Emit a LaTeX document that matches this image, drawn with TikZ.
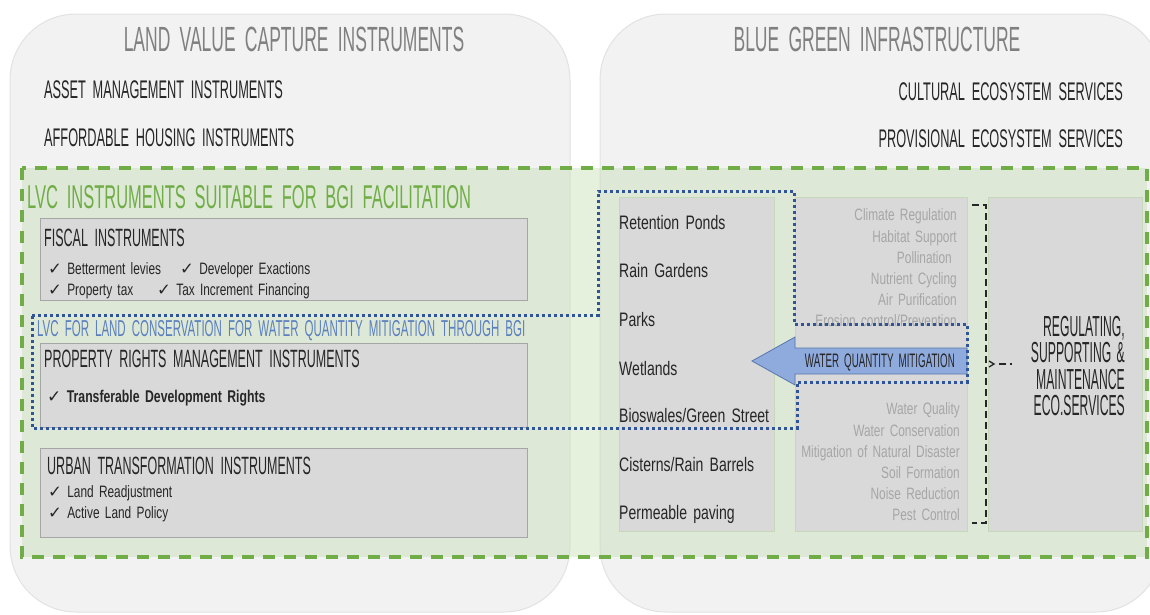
\documentclass[tikz,border=0pt]{standalone}
\usepackage{fontspec}
\setmainfont[FakeStretch=0.72, WordSpace=1.6]{Liberation Sans}
\newfontfamily\capsfont[FakeStretch=0.5, WordSpace=1.9]{Liberation Sans}
\newfontfamily\tallcaps[FakeStretch=0.42, WordSpace=1.6]{Liberation Sans}
\newfontfamily\checkfont{DejaVu Sans}
\definecolor{panelfill}{HTML}{F2F2F2}
\definecolor{panelline}{HTML}{E2E2E2}
\definecolor{zonegreen}{HTML}{70AD47}
\definecolor{zonefill}{HTML}{C5E0B4}
\definecolor{boxfill}{HTML}{D9D9D9}
\definecolor{boxline}{HTML}{A6A6A6}
\definecolor{colline}{HTML}{C5D9B8}
\definecolor{titlegray}{HTML}{808080}
\definecolor{softgray}{HTML}{A6A6A6}
\definecolor{ink}{HTML}{262626}
\definecolor{linkblue}{HTML}{2F5597}
\definecolor{labelblue}{HTML}{5B7FBF}
\definecolor{arrowfill}{HTML}{8FAADC}
\newcommand{\ck}{{\checkfont\char"2713}}
\tikzset{
  panel/.style={fill=panelfill, draw=panelline, line width=1pt, rounded corners=66pt},
  zone/.style={draw=zonegreen, line width=4pt, dash pattern=on 12pt off 9pt, fill=zonefill, fill opacity=0.45},
  instbox/.style={draw=boxline, fill=boxfill, line width=1pt, anchor=north west, inner sep=0pt},
  colbox/.style={draw=colline, fill=boxfill, line width=0.8pt, anchor=north west, inner sep=0pt},
  link/.style={draw=linkblue, line width=3pt, dash pattern=on 3pt off 3pt},
  bracket/.style={draw=ink, line width=1.6pt, dash pattern=on 7pt off 4pt},
  txt/.style={inner sep=0pt, text=ink},
  head/.style={txt, font=\capsfont\fontsize{35}{35}\selectfont, text=titlegray, anchor=base},
  cat/.style={txt, font=\capsfont\fontsize{25.5}{25.5}\selectfont},
  boxhead/.style={txt, font=\capsfont\fontsize{25}{25}\selectfont, anchor=base west},
  item/.style={txt, font=\fontsize{16.5}{16.5}\selectfont, anchor=base west},
  bgi/.style={txt, font=\fontsize{19.5}{19.5}\selectfont, anchor=base west},
  svc/.style={txt, font=\fontsize{16.5}{16.5}\selectfont, text=softgray, anchor=base east},
}
\begin{document}
\begin{tikzpicture}[x=1pt, y=-1pt]
\useasboundingbox (0,0) rectangle (1150,614);
\begin{scope}
\clip (0,0) rectangle (1150,614);
% the two panels
\draw[panel] (10,14) rectangle (570,612);
\draw[panel] (600,14) rectangle (1162,612);
\end{scope}
% panel titles and general categories
\node[head] (lvctitle) at (294,51) {LAND VALUE CAPTURE INSTRUMENTS};
\node[head] (bgititle) at (877,51) {BLUE GREEN INFRASTRUCTURE};
\node[cat, anchor=base west] (asset) at (44,98) {ASSET MANAGEMENT INSTRUMENTS};
\node[cat, anchor=base west] (afford) at (44,146) {AFFORDABLE HOUSING INSTRUMENTS};
\node[cat, anchor=base east] (cultural) at (1123,100) {CULTURAL ECOSYSTEM SERVICES};
\node[cat, anchor=base east] (provisional) at (1123,147) {PROVISIONAL ECOSYSTEM SERVICES};
% green zone of suitable instruments
\draw[zone] (22,168) rectangle (1147,557);
\node[txt, font=\capsfont\fontsize{33}{33}\selectfont, text=zonegreen, anchor=base west] (zonetitle) at (27,208) {LVC INSTRUMENTS SUITABLE FOR BGI FACILITATION};
% instrument boxes
\node[instbox, minimum width=487pt, minimum height=82pt] (fiscal) at (40,218) {};
\node[instbox, minimum width=487pt, minimum height=84pt] (property) at (40,343) {};
\node[instbox, minimum width=487pt, minimum height=89pt] (urban) at (40,448) {};
\node[boxhead] (fiscalhead) at (44,246) {FISCAL INSTRUMENTS};
\node[item] (betterment) at (48,274) {\ck\ Betterment levies};
\node[item] (developer) at (180,274) {\ck\ Developer Exactions};
\node[item] (proptax) at (48,295) {\ck\ Property tax};
\node[item] (tif) at (157,295) {\ck\ Tax Increment Financing};
\node[boxhead] (prophead) at (44,367) {PROPERTY RIGHTS MANAGEMENT INSTRUMENTS};
\node[item, font=\fontsize{17}{17}\selectfont\bfseries] (tdr) at (47,402) {\ck\ Transferable Development Rights};
\node[boxhead] (urbanhead) at (47,474) {URBAN TRANSFORMATION INSTRUMENTS};
\node[item] (readjust) at (48,497) {\ck\ Land Readjustment};
\node[item] (active) at (48,518) {\ck\ Active Land Policy};
% BGI elements and ecosystem service columns
\node[colbox, minimum width=155pt, minimum height=334pt] (elements) at (619,197) {};
\node[colbox, minimum width=172pt, minimum height=334pt] (services) at (795,197) {};
\node[colbox, minimum width=154pt, minimum height=334pt] (regulating) at (988,197) {};
\node[bgi] (ponds) at (619,229) {Retention Ponds};
\node[bgi] (gardens) at (619,277) {Rain Gardens};
\node[bgi] (parks) at (619,326) {Parks};
\node[bgi] (wetlands) at (619,375) {Wetlands};
\node[bgi] (bioswales) at (619,422) {Bioswales/Green Street};
\node[bgi] (cisterns) at (619,471) {Cisterns/Rain Barrels};
\node[bgi] (paving) at (619,519) {Permeable paving};
\node[svc] (climate) at (957,220) {Climate Regulation};
\node[svc] (habitat) at (957,242) {Habitat Support};
\node[svc] (pollination) at (952,263) {Pollination};
\node[svc] (nutrient) at (957,284) {Nutrient Cycling};
\node[svc] (air) at (957,305) {Air Purification};
\node[svc] (erosion) at (957,326) {Erosion control/Prevention};
\node[svc] (quality) at (960,414) {Water Quality};
\node[svc] (conservation) at (960,436) {Water Conservation};
\node[svc] (disaster) at (960,457) {Mitigation of Natural Disaster};
\node[svc] (soil) at (960,478) {Soil Formation};
\node[svc] (noise) at (960,499) {Noise Reduction};
\node[svc] (pest) at (960,520) {Pest Control};
\node[txt, font=\tallcaps\fontsize{29}{26.5}\selectfont, align=right, anchor=east] (regtext) at (1125,366)
  {REGULATING,\\SUPPORTING \&\\MAINTENANCE\\ECO.SERVICES};
% dashed bracket gathering the listed services
\coordinate (bracetop) at (972,205);
\coordinate (bracebot) at (972,523);
\coordinate (bracetip) at (1012,364);
\draw[bracket] (bracetop) -- (986,205) -- (986,523) -- (bracebot);
\draw[bracket] (999,364) -- (bracetip);
\draw[ink, line width=1.3pt] (989,361) -- (994,364) -- (989,367);
% water quantity mitigation arrow
\draw[fill=arrowfill, draw=linkblue!80, line width=0.8pt]
  (752,361) -- (795,337) -- (795,348) -- (967,348) -- (967,374) -- (795,374) -- (795,385) -- cycle;
\node[txt, font=\capsfont\fontsize{19.5}{19.5}\selectfont, anchor=base east] (wqm) at (955,367) {WATER QUANTITY MITIGATION};
% dotted link for land conservation through BGI
\draw[link] (32,315) -- (598,315) -- (598,191) -- (794,191) -- (794,324) -- (967,324)
  -- (967,382) -- (797,382) -- (797,428) -- (32,428) -- cycle;
\node[txt, font=\capsfont\fontsize{23}{23}\selectfont, text=labelblue, anchor=base west] (conslabel) at (37,336)
  {LVC FOR LAND CONSERVATION FOR WATER QUANTITY MITIGATION THROUGH BGI};
\end{tikzpicture}
\end{document}
